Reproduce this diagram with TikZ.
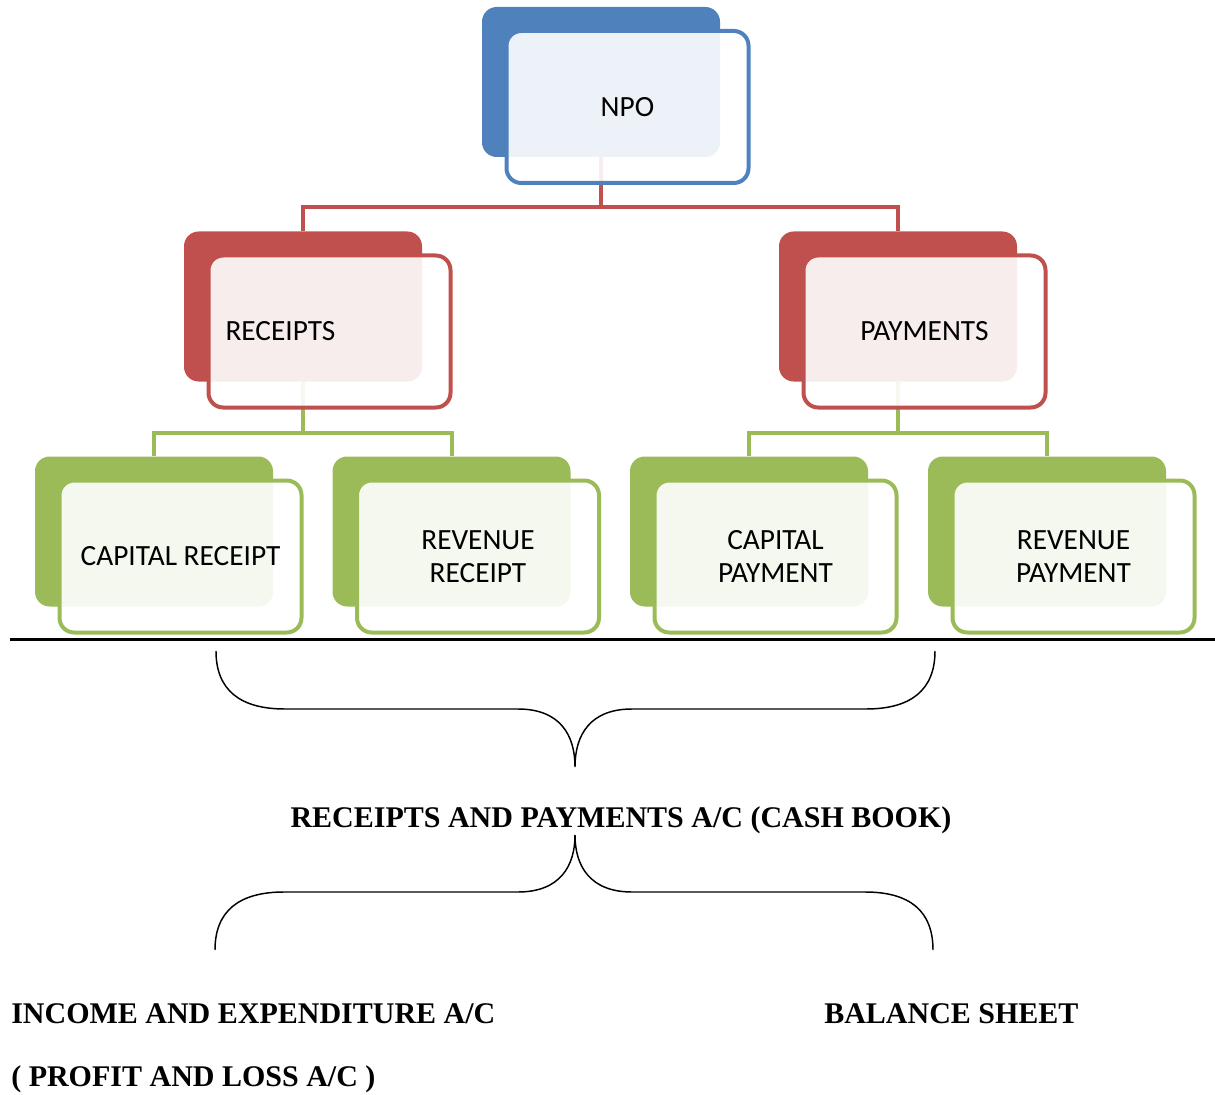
\documentclass[tikz,border=0pt]{standalone}
\usepackage{fontspec}
\setmainfont{Liberation Serif}
\newfontfamily\calib{Carlito}
\usepackage{tikz}
\usetikzlibrary{positioning,calc,backgrounds}
\definecolor{npoblue}{RGB}{79,129,189}
\definecolor{npored}{RGB}{192,80,77}
\definecolor{npogreen}{RGB}{155,187,89}
\begin{document}
\begin{tikzpicture}[
  x=0.75pt,y=-0.75pt,
  back/.style={rectangle,rounded corners=11pt,fill=#1,minimum width=178.5pt,minimum height=112.5pt,inner sep=0pt},
  front/.style={rectangle,rounded corners=11pt,draw=#1,line width=3pt,fill=white,fill opacity=0.9,text opacity=1,minimum width=181.5pt,minimum height=114pt,inner sep=0pt,align=center,font=\calib\fontsize{22}{25}\selectfont},
  link/.style={line width=3pt,#1},
  title/.style={font=\bfseries\fontsize{22.5}{27}\selectfont,inner sep=0pt},
  brace/.style={line width=1.1pt,black}
]
\useasboundingbox (0,0) rectangle (1215,1095);
% top level
\node[back=npoblue] (npob) at (601,82) {};
\node[front=npoblue] (npo) at ([shift={(26.5,25)}]npob.center) {NPO};
% second level
\node[back=npored] (recb) at (303,306.5) {};
\node[front=npored,text width=156pt,align=left] (rec) at ([shift={(26.5,25)}]recb.center) {RECEIPTS};
\node[back=npored] (payb) at (898,306.5) {};
\node[front=npored] (pay) at ([shift={(26.5,25)}]payb.center) {PAYMENTS};
% third level
\node[back=npogreen] (crb) at (154,531.5) {};
\node[front=npogreen] (cr) at ([shift={(26.5,25)}]crb.center) {CAPITAL RECEIPT};
\node[back=npogreen] (rrb) at (451.5,531.5) {};
\node[front=npogreen] (rr) at ([shift={(26.5,25)}]rrb.center) {REVENUE\\RECEIPT};
\node[back=npogreen] (cpb) at (749,531.5) {};
\node[front=npogreen] (cp) at ([shift={(26.5,25)}]cpb.center) {CAPITAL\\PAYMENT};
\node[back=npogreen] (rpb) at (1047,531.5) {};
\node[front=npogreen] (rp) at ([shift={(26.5,25)}]rpb.center) {REVENUE\\PAYMENT};
\begin{pgfonlayer}{background}
\foreach \c in {recb,payb}{
  \draw[link=npored] (npob.south) -- ++(0,50) -| (\c.north);
}
\foreach \c in {crb,rrb}{
  \draw[link=npogreen] (recb.south) -- ++(0,51) -| (\c.north);
}
\foreach \c in {cpb,rpb}{
  \draw[link=npogreen] (payb.south) -- ++(0,51) -| (\c.north);
}
\end{pgfonlayer}
\draw[line width=2.25pt] (10,639) -- (1215,639);
% accounts
\node[title] (cash) at (621,820) {RECEIPTS AND PAYMENTS A/C (CASH BOOK)};
\node[title,anchor=west] (inc) at (11,1014) {INCOME AND EXPENDITURE A/C};
\node[title,anchor=west] (pl) at (11,1079) {( PROFIT AND LOSS A/C )};
\node[title,anchor=west] (bs) at (824,1014) {BALANCE SHEET};
% braces
\draw[brace] (216,651) .. controls (216,690) and (240,709) .. (285,709) -- (518,709)
  .. controls (560,709) and (575,735) .. (575,767)
  .. controls (575,735) and (590,709) .. (632,709) -- (866,709)
  .. controls (911,709) and (935,690) .. (935,651);
\draw[brace] (215,950) .. controls (215,911) and (239,892) .. (284,892) -- (518,892)
  .. controls (560,892) and (575,866) .. (575,835)
  .. controls (575,866) and (590,892) .. (632,892) -- (865,892)
  .. controls (910,892) and (933,911) .. (933,950);
\end{tikzpicture}
\end{document}
